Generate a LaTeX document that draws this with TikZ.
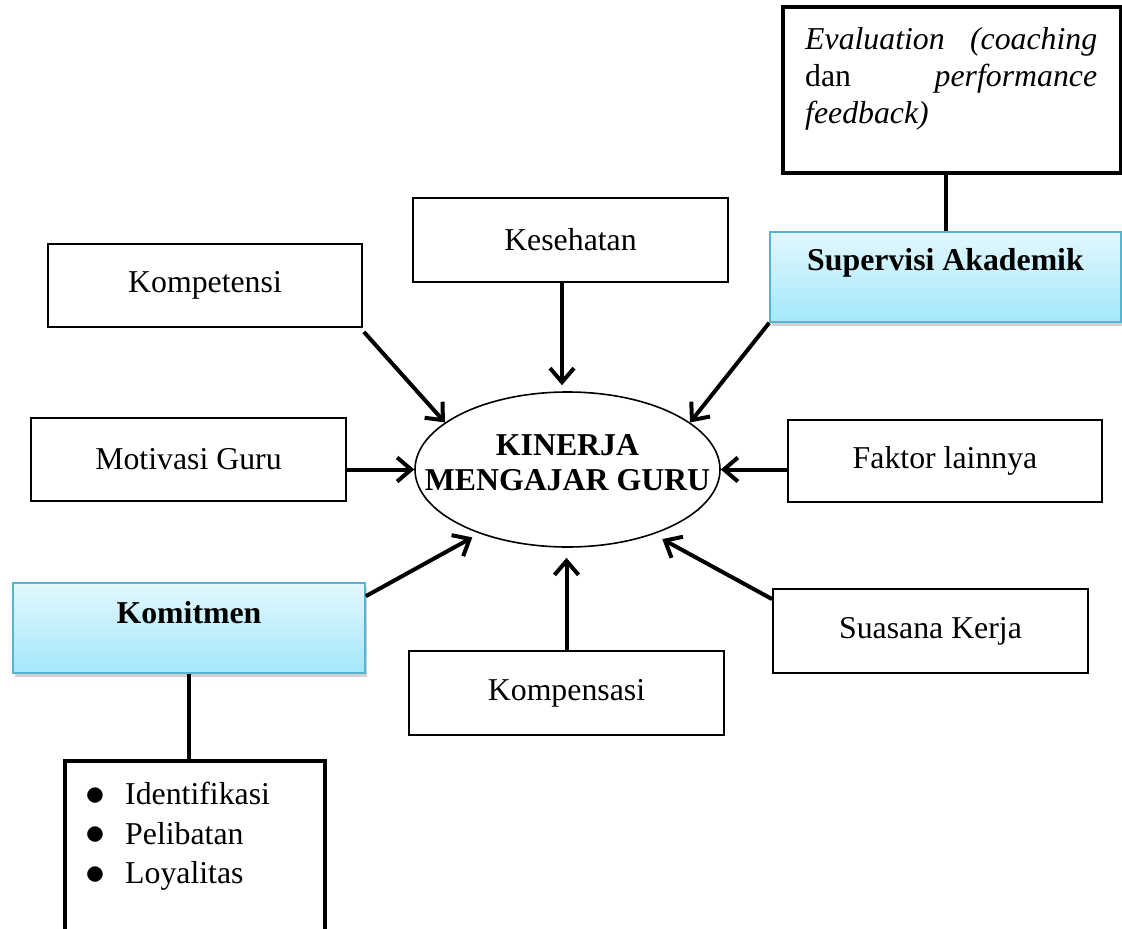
\documentclass[tikz,border=0pt]{standalone}
\usepackage{fontspec}
\setmainfont{Liberation Serif}
\usetikzlibrary{arrows.meta,shapes.geometric,shadows}
\definecolor{boxtop}{HTML}{E3F8FD}
\definecolor{boxbot}{HTML}{A4E7FB}
\definecolor{boxborder}{HTML}{55B4D0}
\newcommand{\bigbul}{\makebox[39pt][l]{\hspace{-1pt}\raisebox{-0.5pt}{\scalebox{1.6}{$\bullet$}}}}
\begin{document}
\begin{tikzpicture}[x=1pt,y=-1pt,
  every node/.style={font=\fontsize{31.8}{37}\selectfont},
  thinbox/.style={draw, line width=1.8pt, rectangle, inner sep=0pt},
  thickbox/.style={draw, line width=3.5pt, rectangle, inner sep=0pt},
  bluebox/.style={draw=boxborder, line width=1.6pt, rectangle, inner sep=0pt,
    top color=boxtop, bottom color=boxbot,
    drop shadow={shadow xshift=1.5pt, shadow yshift=-4pt, opacity=0.3, fill=black!60}},
  arr/.style={line width=4pt, -{Straight Barb[length=14pt,width=24pt]}},
  link/.style={line width=4pt}]
\useasboundingbox (0,0) rectangle (1122,929);
\clip (0,0) rectangle (1122,929);

% boxes
\node[thickbox, minimum width=338pt, minimum height=166pt] (eval) at (952,90) {};
\node[anchor=north west, inner sep=0pt, align=left] (evalT) at (805,27)
  {\makebox[292pt][s]{\textit{Evaluation}\hfill\textit{(coaching}}\\
   \makebox[292pt][s]{dan\hfill\textit{performance}}\\
   \textit{feedback)}};
\node[bluebox, minimum width=351pt, minimum height=90pt] (sup) at (945.5,277) {};
\node (supT) at (945.5,263) {\textbf{Supervisi Akademik}};

\node[thinbox, minimum width=314pt, minimum height=83pt] (kom) at (205,285.5) {Kompetensi};
\node[thinbox, minimum width=315pt, minimum height=84pt] (kes) at (570.5,240) {Kesehatan};
\node[thinbox, minimum width=315pt, minimum height=83pt] (mot) at (188.5,459.5) {Motivasi Guru};
\node[thinbox, minimum width=314pt, minimum height=82pt] (fak) at (945,461) {Faktor lainnya};
\node[thinbox, minimum width=315pt, minimum height=84pt] (kmp) at (566.5,693) {Kompensasi};
\node[thinbox, minimum width=315pt, minimum height=84pt] (sua) at (930.5,631) {Suasana Kerja};

\node[bluebox, minimum width=352pt, minimum height=90pt] (kmt) at (189,628) {};
\node (kmtT) at (189,613) {\textbf{Komitmen}};

\node[thickbox, minimum width=260pt, minimum height=179pt] (list) at (195,850.5) {};
\node[anchor=north west, inner sep=0pt, align=left, font=\fontsize{31.8}{39.5}\selectfont] (listT) at (86,782)
  {\bigbul Identifikasi\\
   \bigbul Pelibatan\\
   \bigbul Loyalitas};

% central ellipse
\node[draw, ellipse, line width=1.6pt, minimum width=305pt, minimum height=155pt, inner sep=0pt] (kin) at (567.5,469.5) {};
\node[align=center, font=\fontsize{31.8}{35}\selectfont\bfseries] (kinT) at (567.5,462.5) {KINERJA\\MENGAJAR GURU};

% links
\draw[link] (sup.north) -- (sup.north |- eval.south);
\draw[link] (kmt.south) -- (kmt.south |- list.north);

% arrows
\draw[arr] ([xshift=1pt,yshift=-4pt]kom.south east) -- (kin.159);
\draw[arr] ([xshift=-8.5pt]kes.south) -- ([xshift=-5.5pt,yshift=6pt]kin.north);
\draw[arr] (sup.south west) -- (kin.21);
\draw[arr] (mot.east |- kin.west) -- (kin.west);
\draw[arr] (fak.west |- kin.east) -- (kin.east);
\draw[arr, shorten >=8pt] ([yshift=-14pt]kmt.north east) -- (kin.216);
\draw[arr, shorten >=10pt] (kmp.north) -- (kmp.north |- kin.south);
\draw[arr, shorten >=10pt] ([yshift=-11pt]sua.north west) -- (kin.323);
\end{tikzpicture}
\end{document}
